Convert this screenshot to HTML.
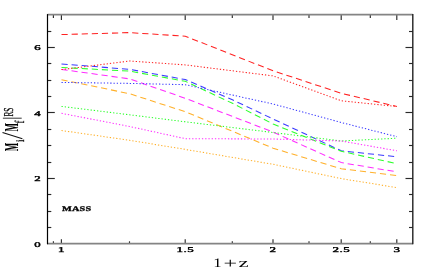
<!DOCTYPE html>
<html><head><meta charset="utf-8"><title>plot</title>
<style>
html,body{margin:0;padding:0;background:#fff;}
svg{display:block;}
text{text-rendering:geometricPrecision;}
.txt{opacity:0.996;}
text{font-family:"Liberation Serif",serif;fill:#000;}
.tl{font-size:7.3px;font-weight:normal;letter-spacing:0.25px;stroke:#000;stroke-width:0.42px;}
</style></head>
<body>
<svg width="436" height="273" viewBox="0 0 436 273">
<rect width="436" height="273" fill="#fff"/>
<g>
<polyline points="61.5,34.6 129.6,32.6 185.3,36.2 273.1,70.8 341.3,93.3 396.9,106.5" fill="none" stroke="#ff2222" stroke-width="1.05" stroke-dasharray="6.2 3.9"/>
<polyline points="61.5,64.0 129.6,69.3 185.3,79.6 232.4,99.8 273.1,119.0 341.3,150.8 396.9,156.8" fill="none" stroke="#3a3aff" stroke-width="1.05" stroke-dasharray="6.2 3.9"/>
<polyline points="61.5,67.5 129.6,71.1 185.3,81.3 232.4,103.3 273.1,124.0 341.3,151.3 396.9,163.7" fill="none" stroke="#2cff2c" stroke-width="1.05" stroke-dasharray="6.2 3.9"/>
<polyline points="61.5,69.4 129.6,78.9 185.3,98.3 273.1,132.1 341.3,162.6 396.9,171.9" fill="none" stroke="#ff2cff" stroke-width="1.05" stroke-dasharray="6.2 3.9"/>
<polyline points="61.5,79.7 129.6,93.7 185.3,111.7 273.1,148.2 341.3,168.8 396.9,175.5" fill="none" stroke="#ffb02a" stroke-width="1.05" stroke-dasharray="6.2 3.9"/>
<polyline points="61.5,69.6 129.6,61.0 185.3,64.9 273.1,75.9 341.3,100.8 396.9,106.5" fill="none" stroke="#ff2222" stroke-width="1.05" stroke-dasharray="1.3 1.95"/>
<polyline points="61.5,82.4 129.6,83.4 185.3,84.7 273.1,104.0 341.3,122.5 396.9,136.7" fill="none" stroke="#3a3aff" stroke-width="1.05" stroke-dasharray="1.3 1.95"/>
<polyline points="61.5,106.4 129.6,114.8 185.3,121.8 273.1,132.5 341.3,141.0 396.9,138.2" fill="none" stroke="#2cff2c" stroke-width="1.05" stroke-dasharray="1.3 1.95"/>
<polyline points="61.5,113.3 129.6,126.5 185.3,138.7 273.1,139.0 341.3,141.0 396.9,150.8" fill="none" stroke="#ff2cff" stroke-width="1.05" stroke-dasharray="1.3 1.95"/>
<polyline points="61.5,130.5 129.6,140.3 185.3,149.4 273.1,164.3 341.3,178.6 396.9,187.6" fill="none" stroke="#ffb02a" stroke-width="1.05" stroke-dasharray="1.3 1.95"/>
</g>
<g stroke="#2a2a2a" stroke-width="1.15">
<line x1="47.5" y1="227.5" x2="51.3" y2="227.5"/>
<line x1="412.8" y1="227.5" x2="409.0" y2="227.5"/>
<line x1="47.5" y1="211.5" x2="51.3" y2="211.5"/>
<line x1="412.8" y1="211.5" x2="409.0" y2="211.5"/>
<line x1="47.5" y1="194.5" x2="51.3" y2="194.5"/>
<line x1="412.8" y1="194.5" x2="409.0" y2="194.5"/>
<line x1="47.5" y1="178.5" x2="54.8" y2="178.5"/>
<line x1="412.8" y1="178.5" x2="405.5" y2="178.5"/>
<line x1="47.5" y1="162.5" x2="51.3" y2="162.5"/>
<line x1="412.8" y1="162.5" x2="409.0" y2="162.5"/>
<line x1="47.5" y1="145.5" x2="51.3" y2="145.5"/>
<line x1="412.8" y1="145.5" x2="409.0" y2="145.5"/>
<line x1="47.5" y1="129.5" x2="51.3" y2="129.5"/>
<line x1="412.8" y1="129.5" x2="409.0" y2="129.5"/>
<line x1="47.5" y1="112.5" x2="54.8" y2="112.5"/>
<line x1="412.8" y1="112.5" x2="405.5" y2="112.5"/>
<line x1="47.5" y1="96.5" x2="51.3" y2="96.5"/>
<line x1="412.8" y1="96.5" x2="409.0" y2="96.5"/>
<line x1="47.5" y1="80.5" x2="51.3" y2="80.5"/>
<line x1="412.8" y1="80.5" x2="409.0" y2="80.5"/>
<line x1="47.5" y1="63.5" x2="51.3" y2="63.5"/>
<line x1="412.8" y1="63.5" x2="409.0" y2="63.5"/>
<line x1="47.5" y1="47.5" x2="54.8" y2="47.5"/>
<line x1="412.8" y1="47.5" x2="405.5" y2="47.5"/>
<line x1="47.5" y1="31.5" x2="51.3" y2="31.5"/>
<line x1="412.8" y1="31.5" x2="409.0" y2="31.5"/>
<line x1="53.4" y1="243.7" x2="53.4" y2="241.3"/>
<line x1="53.4" y1="14.7" x2="53.4" y2="17.9"/>
<line x1="61.4" y1="243.7" x2="61.4" y2="239.3"/>
<line x1="61.4" y1="14.7" x2="61.4" y2="19.9"/>
<line x1="129.5" y1="243.7" x2="129.5" y2="241.3"/>
<line x1="129.5" y1="14.7" x2="129.5" y2="17.9"/>
<line x1="185.2" y1="243.7" x2="185.2" y2="239.3"/>
<line x1="185.2" y1="14.7" x2="185.2" y2="19.9"/>
<line x1="232.3" y1="243.7" x2="232.3" y2="241.3"/>
<line x1="232.3" y1="14.7" x2="232.3" y2="17.9"/>
<line x1="273.0" y1="243.7" x2="273.0" y2="239.3"/>
<line x1="273.0" y1="14.7" x2="273.0" y2="19.9"/>
<line x1="309.0" y1="243.7" x2="309.0" y2="241.3"/>
<line x1="309.0" y1="14.7" x2="309.0" y2="17.9"/>
<line x1="341.2" y1="243.7" x2="341.2" y2="239.3"/>
<line x1="341.2" y1="14.7" x2="341.2" y2="19.9"/>
<line x1="370.3" y1="243.7" x2="370.3" y2="241.3"/>
<line x1="370.3" y1="14.7" x2="370.3" y2="17.9"/>
<line x1="396.8" y1="243.7" x2="396.8" y2="239.3"/>
<line x1="396.8" y1="14.7" x2="396.8" y2="19.9"/>
</g>
<line x1="47.5" y1="14.7" x2="412.8" y2="14.7" stroke="#848484" stroke-width="1.7"/>
<line x1="47.5" y1="243.7" x2="412.8" y2="243.7" stroke="#848484" stroke-width="1.7"/>
<line x1="47.5" y1="14.1" x2="47.5" y2="244.29999999999998" stroke="#000" stroke-width="1.2"/>
<line x1="412.8" y1="14.1" x2="412.8" y2="244.29999999999998" stroke="#222" stroke-width="1.4"/>
<g class="txt">
<text transform="translate(41.0,246.6) scale(1.75,1)" text-anchor="end" class="tl">0</text>
<text transform="translate(41.0,181.0) scale(1.75,1)" text-anchor="end" class="tl">2</text>
<text transform="translate(41.0,115.5) scale(1.75,1)" text-anchor="end" class="tl">4</text>
<text transform="translate(41.0,49.9) scale(1.75,1)" text-anchor="end" class="tl">6</text>
<text transform="translate(61.5,252.4) scale(1.78,1)" text-anchor="middle" class="tl">1</text>
<text transform="translate(185.3,252.4) scale(1.78,1)" text-anchor="middle" class="tl">1.5</text>
<text transform="translate(273.1,252.4) scale(1.78,1)" text-anchor="middle" class="tl">2</text>
<text transform="translate(341.3,252.4) scale(1.78,1)" text-anchor="middle" class="tl">2.5</text>
<text transform="translate(396.9,252.4) scale(1.78,1)" text-anchor="middle" class="tl">3</text>
<g style="font-size:13px;" text-anchor="middle">
<text transform="translate(217.4,267.3) scale(1.3,1)">1</text>
<text transform="translate(230.4,267.9) scale(1.85,1.12)">+</text>
<text transform="translate(243.5,267.3) scale(1.75,1)">z</text>
</g>
<text transform="translate(62,211.1) scale(1.46,1)" style="font-size:7.1px;font-weight:bold;stroke:#000;stroke-width:0.3px;letter-spacing:0.1px;">MASS</text>
<g style="font-size:19.8px;stroke:#000;stroke-width:0.3px;">
<text transform="translate(18.4,151.2) rotate(-90) scale(0.455,1)" style="font-weight:bold;stroke-width:0.1px;">M</text>
<text transform="translate(18.4,131.4) rotate(-90) scale(0.455,1)" style="font-weight:bold;stroke-width:0.1px;">M</text>
<text transform="translate(23.5,141.9) rotate(-90) scale(0.8,1)" style="font-size:11.7px;">i</text>
<text transform="translate(23.6,123.3) rotate(-90) scale(0.6,1)" style="font-size:13.3px;">f</text>
<text transform="translate(12.6,116.6) rotate(-90) scale(0.54,1)" style="font-size:13.6px;">RS</text>
<line x1="22.4" y1="138.8" x2="2.5" y2="132.5" stroke="#111" stroke-width="1.1"/>
<line x1="2.9" y1="118.2" x2="21.7" y2="118.2" stroke="#333" stroke-width="1"/>
</g>
</g>
</svg>
</body></html>
